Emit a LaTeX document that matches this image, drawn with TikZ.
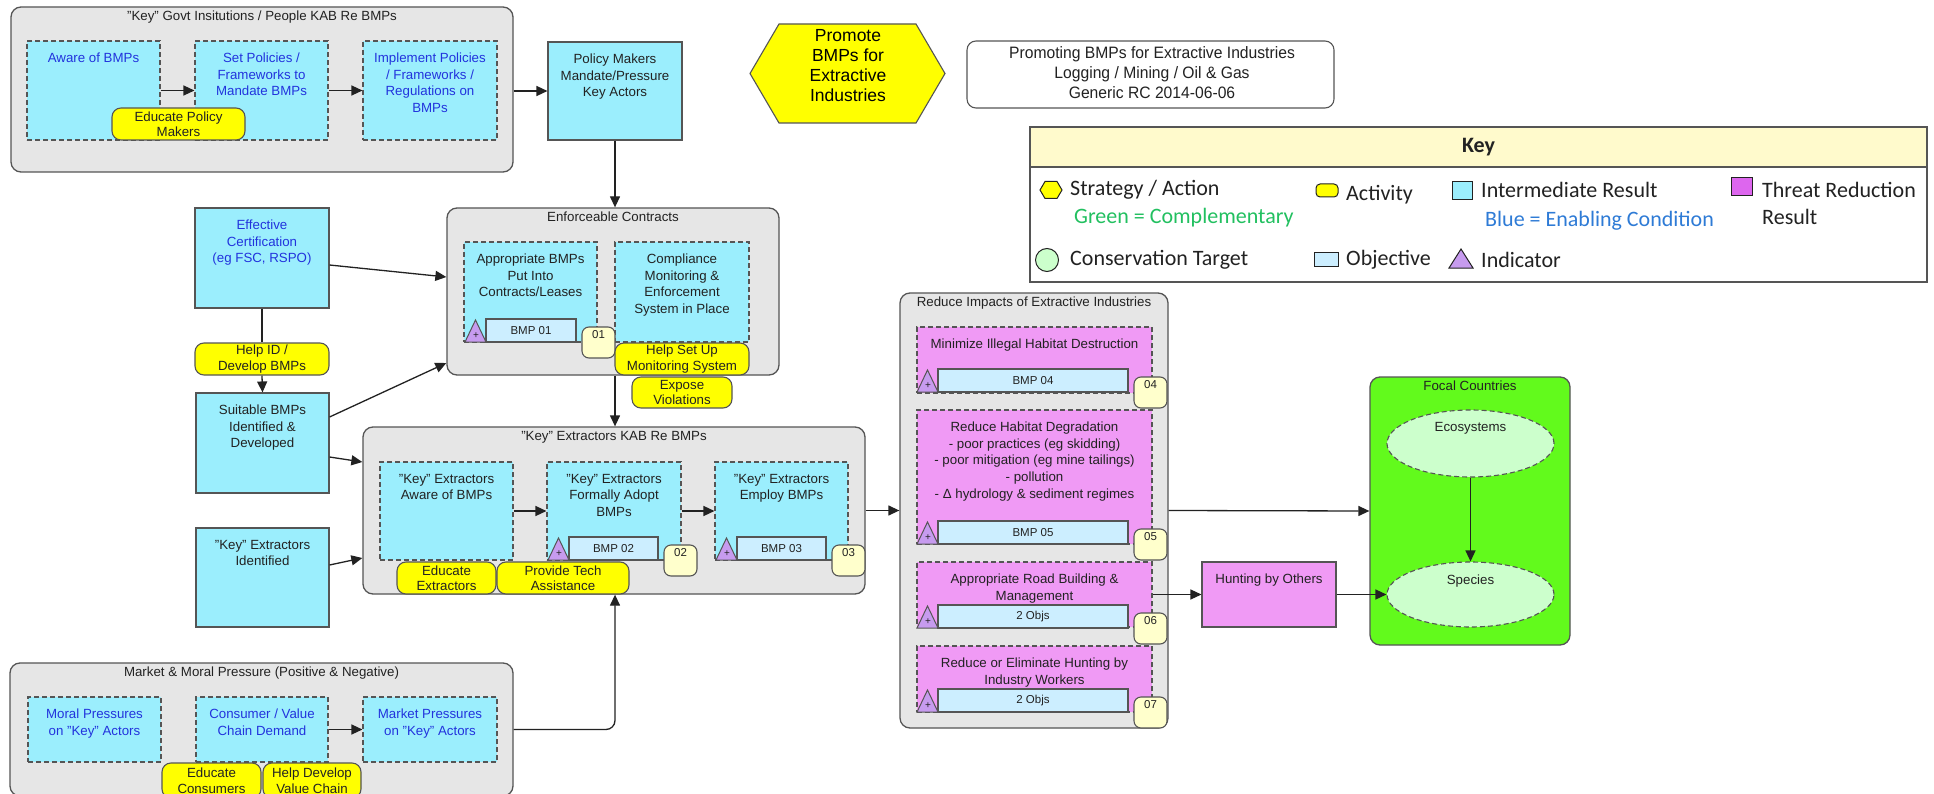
\documentclass[tikz,border=0pt]{standalone}
\usepackage{fontspec}
\setmainfont{Liberation Sans}
\newfontfamily\keyfont{Carlito}
\newfontfamily\titlefont[FakeStretch=0.95]{Liberation Sans}
\usetikzlibrary{arrows.meta,fit,shapes.geometric}

\definecolor{cyanbox}{HTML}{9BEEFD}
\definecolor{grpgray}{HTML}{E6E6E6}
\definecolor{edge}{HTML}{555555}
\definecolor{pinkbox}{HTML}{F09AF5}
\definecolor{objblue}{HTML}{CCEEFF}
\definecolor{indpurple}{HTML}{C79BEF}
\definecolor{badgefill}{HTML}{FFFFCC}
\definecolor{actyellow}{HTML}{FFFF00}
\definecolor{focal}{HTML}{62FA1C}
\definecolor{target}{HTML}{CCFFCC}
\definecolor{keyhead}{HTML}{FFFACC}
\definecolor{enabling}{HTML}{2233DD}
\definecolor{ink}{HTML}{222222}
\definecolor{compgreen}{HTML}{22C060}
\definecolor{condblue}{HTML}{2E7BD6}
\definecolor{trkey}{HTML}{DD66EE}

\newcommand\tx{\fontsize{13.3pt}{16.6pt}\selectfont}
\newcommand\pilltx{\fontsize{13.3pt}{15.5pt}\selectfont}
\newcommand\smalltx{\fontsize{11.5pt}{13pt}\selectfont}
\newcommand\bigtx{\titlefont\fontsize{16.5pt}{19.8pt}\selectfont}
\newcommand\hextx{\fontsize{17.5pt}{20pt}\selectfont}
\newcommand\keytx{\keyfont\fontsize{22pt}{26pt}\selectfont}

\tikzset{
  grp/.style={draw=edge, fill=grpgray, line width=1.3pt, rounded corners=10pt, inner sep=0pt},
  irbox/.style={draw=edge, fill=cyanbox, line width=1.1pt, inner sep=0pt},
  irdash/.style={irbox, dash pattern=on 5pt off 3pt},
  trbox/.style={draw=edge, fill=pinkbox, line width=1.1pt, inner sep=0pt},
  trdash/.style={trbox, dash pattern=on 5pt off 3pt},
  act/.style={draw=edge, fill=actyellow, line width=1.1pt, rounded corners=9pt, inner sep=0pt, align=center, font=\pilltx, text=ink},
  objbox/.style={draw=edge, fill=objblue, line width=1.1pt, inner sep=0pt, font=\smalltx, text=ink},
  badgebox/.style={draw=edge, fill=badgefill, line width=1.1pt, rounded corners=7pt, inner sep=0pt},
  lbl/.style={align=center, font=\tx, text=ink, inner sep=0pt},
  enab/.style={text=enabling},
  conn/.style={draw=ink, line width=1.3pt, -{Triangle[length=11pt,width=10pt]}},
  link/.style={draw=ink, line width=1.3pt},
  keyname/.style={anchor=west, font=\keytx, text=ink, inner sep=0pt},
}

% node of a given style filling the rectangle (x1,y1)-(x2,y2), text centred
\newcommand\ctr[7]{%
  \pgfmathsetmacro\cw{(#5)-(#3)}\pgfmathsetmacro\ch{(#6)-(#4)}%
  \pgfmathsetmacro\cx{((#3)+(#5))/2}\pgfmathsetmacro\cy{((#4)+(#6))/2}%
  \node[#1, minimum width=\cw pt, minimum height=\ch pt] (#2) at (\cx,\cy) {#7};}
% box with its text set near the top edge
\newcommand\boxtext[8]{%
  \ctr{#2}{#1}{#3}{#4}{#5}{#6}{}
  \node[lbl, #7, anchor=north] (#1-t) at ([yshift=-12.5pt]#1.north) {#8};}
% title of a grouping box
\newcommand\grouptitle[2]{%
  \node[lbl, anchor=north] (#1-t) at ([yshift=-4.5pt]#1.north) {#2};}
% indicator triangle, objective bar and numbered badge along a box bottom
\newcommand\objmark[6]{%
  \ctr{objbox}{#1-obj}{#2+21}{#3}{#4}{#3+23}{#5}
  \filldraw[fill=indpurple, draw=edge, line width=1pt] (#2,#3+23) -- (#2+10.5,#3+1) -- (#2+21,#3+23) -- cycle;
  \node[font=\fontsize{10pt}{10pt}\selectfont, text=ink, inner sep=0pt] at (#2+11,#3+17) {+};
  \ctr{badgebox}{#1-badge}{#4+6}{#3+8}{#4+39}{#3+39}{}
  \node[lbl, font=\smalltx] (#1-num) at ([yshift=-8.5pt]#1-badge.north) {#6};}

\begin{document}
\begin{tikzpicture}[x=1pt,y=-1pt]
\clip (0,0) rectangle (1934,794);
\fill[white] (0,0) rectangle (1934,794);

% ---------- government institutions ----------
\ctr{grp}{g1}{11}{7}{513}{172}{}
\grouptitle{g1}{"Key" Govt Insitutions / People KAB Re BMPs}
\boxtext{aware}{irdash}{27}{41}{160}{140}{enab}{Aware of BMPs}
\boxtext{setpol}{irdash}{195}{41}{328}{140}{enab}{Set Policies /\\Frameworks to\\Mandate BMPs}
\boxtext{implpol}{irdash}{363}{41}{497}{140}{enab}{Implement Policies\\/ Frameworks /\\Regulations on\\BMPs}
\ctr{act}{edpol}{112}{108}{245}{140}{Educate Policy\\Makers}

\boxtext{pm}{irbox}{548}{42}{682}{140}{}{Policy Makers\\Mandate/Pressure\\Key Actors}

% ---------- strategy and title ----------
\filldraw[fill=actyellow, draw=edge, line width=1.1pt] (750,73.5) -- (779,24) -- (916,24) -- (945,73.5) -- (916,123) -- (779,123) -- cycle;
\node[lbl, font=\hextx, text=black] (strategy) at (848,66) {Promote\\BMPs for\\Extractive\\Industries};

\ctr{draw=edge, fill=white, line width=1.1pt, rounded corners=9pt, inner sep=0pt}{title}{967}{41}{1334}{108}{}
\node[lbl, font=\bigtx] (title-t) at (1152,72.5) {Promoting BMPs for Extractive Industries\\Logging / Mining / Oil \& Gas\\Generic RC 2014-06-06};

% ---------- key ----------
\ctr{draw=edge, fill=white, line width=1.3pt, inner sep=0pt}{key}{1030}{127}{1927}{282}{}
\ctr{draw=edge, fill=keyhead, line width=1.3pt, inner sep=0pt}{keyhead}{1030}{127}{1927}{167}{}
\node[font=\keytx\bfseries, text=ink, inner sep=0pt] (keyhead-t) at (keyhead.center) {Key};

\filldraw[fill=actyellow, draw=ink, line width=1pt] (1040,190) -- (1045,181.5) -- (1057,181.5) -- (1062,190) -- (1057,198.5) -- (1045,198.5) -- cycle;
\node[keyname] (k-strat) at (1070,190) {Strategy / Action};
\node[keyname, text=compgreen] (k-green) at (1074,218) {Green = Complementary};
\filldraw[fill=actyellow, draw=ink, line width=1pt, rounded corners=4pt] (1316,184) rectangle (1338,197);
\node[keyname] (k-act) at (1346,195) {Activity};
\filldraw[fill=cyanbox, draw=ink, line width=1pt] (1452,182) rectangle (1472,200);
\node[keyname] (k-ir) at (1481,190) {Intermediate Result};
\node[keyname, text=condblue] (k-blue) at (1485,221) {Blue = Enabling Condition};
\filldraw[fill=trkey, draw=ink, line width=1pt] (1731,178) rectangle (1752,196);
\node[keyname] (k-tr) at (1762,190) {Threat Reduction};
\node[keyname] (k-tr2) at (1762,217) {Result};
\filldraw[fill=target, draw=ink, line width=1pt] (1047,260) circle (11.5);
\node[keyname] (k-target) at (1070,260) {Conservation Target};
\filldraw[fill=objblue, draw=ink, line width=1pt] (1314,253) rectangle (1338,266);
\node[keyname] (k-obj) at (1346,260) {Objective};
\filldraw[fill=indpurple, draw=ink, line width=1pt] (1449,268) -- (1461,249) -- (1473,268) -- cycle;
\node[keyname] (k-ind) at (1481,260) {Indicator};

% ---------- enforceable contracts ----------
\ctr{grp}{ec}{447}{208}{779}{375}{}
\grouptitle{ec}{Enforceable Contracts}
\boxtext{appbmp}{irdash}{464}{242}{597}{342}{}{Appropriate BMPs\\Put Into\\Contracts/Leases}
\boxtext{compl}{irdash}{615}{242}{749}{342}{}{Compliance\\Monitoring \&\\Enforcement\\System in Place}
\objmark{appbmp}{465}{319}{576}{BMP 01}{01}
\ctr{act}{helpmon}{615}{343}{749}{375}{Help Set Up\\Monitoring System}
\ctr{act}{expose}{632}{377}{732}{408}{Expose\\Violations}

% ---------- left column ----------
\boxtext{eff}{irbox}{195}{208}{329}{308}{enab}{Effective\\Certification\\(eg FSC, RSPO)}
\ctr{act}{helpid}{195}{343}{329}{375}{Help ID /\\Develop BMPs}
\boxtext{suit}{irbox}{196}{393}{329}{493}{}{Suitable BMPs\\Identified \&\\Developed}
\boxtext{kid}{irbox}{196}{528}{329}{627}{}{"Key" Extractors\\Identified}

% ---------- key extractors ----------
\ctr{grp}{kx}{363}{427}{865}{594}{}
\grouptitle{kx}{"Key" Extractors KAB Re BMPs}
\boxtext{kaware}{irdash}{380}{462}{513}{560}{}{"Key" Extractors\\Aware of BMPs}
\boxtext{kadopt}{irdash}{547}{462}{681}{560}{}{"Key" Extractors\\Formally Adopt\\BMPs}
\boxtext{kemploy}{irdash}{715}{462}{848}{560}{}{"Key" Extractors\\Employ BMPs}
\objmark{kadopt}{548}{537}{658}{BMP 02}{02}
\objmark{kemploy}{716}{537}{826}{BMP 03}{03}
\ctr{act}{edext}{397}{562}{496}{594}{Educate\\Extractors}
\ctr{act}{tech}{497}{562}{629}{594}{Provide Tech\\Assistance}

% ---------- market and moral pressure ----------
\ctr{grp}{mk}{10}{663}{513}{796}{}
\grouptitle{mk}{Market \& Moral Pressure (Positive \& Negative)}
\boxtext{moral}{irdash}{28}{697}{161}{762}{enab}{Moral Pressures\\on "Key" Actors}
\boxtext{consumer}{irdash}{196}{697}{328}{762}{enab}{Consumer / Value\\Chain Demand}
\boxtext{mktp}{irdash}{363}{697}{497}{762}{enab}{Market Pressures\\on "Key" Actors}
\ctr{act}{edcons}{162}{763}{261}{798}{Educate\\Consumers}
\ctr{act}{devchain}{263}{763}{361}{798}{Help Develop\\Value Chain}

% ---------- threat reduction ----------
\ctr{grp}{ri}{900}{293}{1168}{728}{}
\grouptitle{ri}{Reduce Impacts of Extractive Industries}
\boxtext{minim}{trdash}{917}{327}{1152}{393}{}{Minimize Illegal Habitat Destruction}
\boxtext{degr}{trdash}{917}{410}{1152}{544}{}{Reduce Habitat Degradation\\- poor practices (eg skidding)\\- poor mitigation (eg mine tailings)\\- pollution\\- Δ hydrology \& sediment regimes}
\boxtext{road}{trdash}{917}{562}{1152}{627}{}{Appropriate Road Building \&\\Management}
\boxtext{elim}{trdash}{917}{646}{1152}{712}{}{Reduce or Eliminate Hunting by\\Industry Workers}
\objmark{minim}{917}{369}{1128}{BMP 04}{04}
\objmark{degr}{917}{521}{1128}{BMP 05}{05}
\objmark{road}{917}{605}{1128}{2 Objs}{06}
\objmark{elim}{917}{689}{1128}{2 Objs}{07}

\boxtext{hunt}{trbox}{1202}{562}{1336}{627}{}{Hunting by Others}

% ---------- targets ----------
\ctr{draw=edge, fill=focal, line width=1.3pt, rounded corners=10pt, inner sep=0pt}{fc}{1370}{377}{1570}{645}{}
\grouptitle{fc}{Focal Countries}
\node[ellipse, draw=edge, fill=target, line width=1.1pt, dash pattern=on 5pt off 3pt, minimum width=167pt, minimum height=67pt, inner sep=0pt] (eco) at (1470.5,443.5) {};
\node[lbl, anchor=north] (eco-t) at ([yshift=-13pt]eco.north) {Ecosystems};
\node[ellipse, draw=edge, fill=target, line width=1.1pt, dash pattern=on 5pt off 3pt, minimum width=167pt, minimum height=65pt, inner sep=0pt] (species) at (1470.5,594.5) {};
\node[lbl, anchor=north] (species-t) at ([yshift=-13pt]species.north) {Species};

% ---------- connectors ----------
\draw[conn] (aware) -- (setpol);
\draw[conn] (setpol) -- (implpol);
\draw[conn] (pm.west -| g1.east) -- (pm.west);
\draw[conn] (pm.south) -- (pm.south |- ec.north);
\draw[conn] ([yshift=-7pt]eff.east) -- ([yshift=14.5pt]ec.west);
\draw[link] (eff.south) -- (helpid.north);
\draw[conn] (helpid.south) -- (suit.north);
\draw[conn] ([yshift=26pt]suit.east) -- ([yshift=-71.5pt]ec.west);
\draw[conn] (pm.south |- ec.south) -- (pm.south |- kx.north);
\draw[conn] ([yshift=-14pt]suit.east) -- ([yshift=48.5pt]kx.west);
\draw[conn] ([yshift=12.5pt]kid.east) -- ([yshift=-47.5pt]kx.west);
\draw[conn] (kaware) -- (kadopt);
\draw[conn] (kadopt) -- (kemploy);
\draw[conn] (kx.east) -- (ri.west);
\draw[conn] (ri.east) -- (fc.west);
\draw[conn] (road.east) -- (hunt.west);
\draw[conn] (hunt.east) -- (species.west);
\draw[conn] (eco.south) -- (species.north);
\draw[conn] (consumer) -- (mktp);
\draw[conn, rounded corners=9pt] (mk.east) -- (mk.east -| pm.south) -- (pm.south |- kx.south);
\end{tikzpicture}
\end{document}
